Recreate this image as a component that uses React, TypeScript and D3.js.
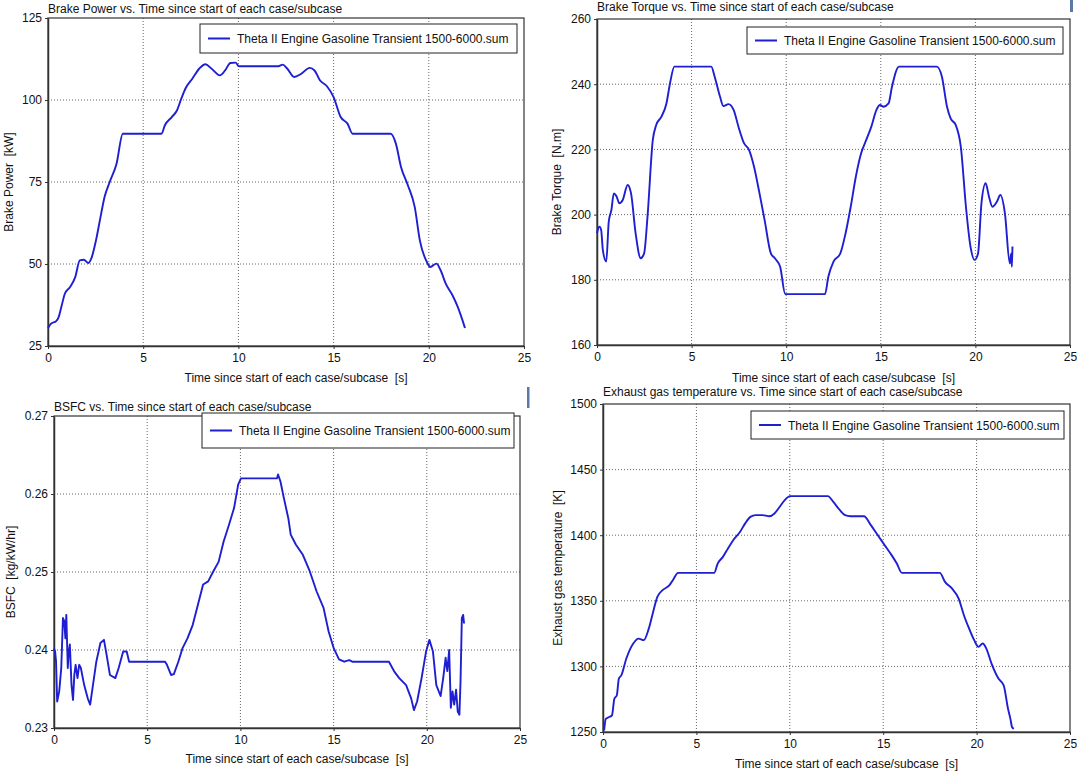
import React, { useEffect, useRef } from "react";
import { select, scaleLinear, line, axisLeft, axisBottom, curveMonotoneX, curveLinear } from "d3";

// time [s] vs value
const brakePower: [number, number][] = [
  [0, 30.5], [0.16, 31.8], [0.43, 32.6], [0.56, 33.8], [0.7, 36.9], [0.89, 41], [1.16, 43],
  [1.43, 46], [1.67, 51.1], [1.88, 51.3], [2.12, 50.3], [2.3, 52.1], [2.52, 57.2], [2.79, 65.3],
  [2.97, 70.4], [3.24, 75], [3.6, 80.6], [3.93, 89.7], [5.96, 89.7], [6.14, 92.3], [6.5, 94.8],
  [6.77, 96.8], [7.0, 100.4], [7.22, 103.5], [7.58, 106.5], [7.95, 109.6], [8.27, 110.9],
  [8.58, 109.6], [9.03, 107.5], [9.3, 109], [9.58, 111.3], [9.85, 111.4], [10.03, 110.3],
  [12.1, 110.3], [12.33, 110.8], [12.56, 109.6], [12.93, 107], [13.3, 108], [13.74, 109.8],
  [14.0, 109], [14.28, 106], [14.65, 104.2], [15.0, 100.9], [15.37, 94.8], [15.73, 92.8],
  [16.0, 89.7], [18.0, 89.7], [18.27, 86.7], [18.54, 79.6], [18.9, 74], [19.26, 67.4],
  [19.53, 57.2], [19.9, 50.6], [20.08, 49.1], [20.4, 50.1], [20.62, 48.1], [20.89, 44],
  [21.25, 40.4], [21.52, 36.9], [21.9, 30.5],
];

const brakeTorque: [number, number][] = [
  [0, 194.3], [0.04, 195.3], [0.13, 196.3], [0.22, 195.3], [0.31, 189.1], [0.49, 185.6],
  [0.62, 197.8], [0.76, 201.4], [0.89, 206.5], [1.04, 205.5], [1.18, 203.5], [1.36, 204.5],
  [1.62, 209.1], [1.8, 206.5], [2.04, 194.3], [2.31, 186.6], [2.49, 188.1], [2.67, 199.4],
  [2.95, 222.9], [3.13, 227.5], [3.4, 230], [3.67, 234.1], [3.86, 240.3], [4.09, 245.4],
  [6.04, 245.4], [6.22, 242.3], [6.5, 236.2], [6.68, 233.3], [6.95, 233.9], [7.22, 232.1],
  [7.5, 226.5], [7.77, 221.9], [8.04, 219.8], [8.3, 214.7], [8.59, 206.5], [8.86, 198.3],
  [9.19, 188.1], [9.4, 186.6], [9.68, 184], [9.95, 175.6], [12.05, 175.6], [12.23, 181],
  [12.5, 185.6], [12.86, 188.1], [13.14, 194.3], [13.41, 202.4], [13.68, 211.6], [13.96, 218.8],
  [14.23, 222.9], [14.5, 227], [14.77, 232.1], [14.96, 233.6], [15.14, 233.1], [15.41, 234.1],
  [15.59, 239.2], [15.96, 245.4], [17.96, 245.4], [18.23, 242.3], [18.5, 233.1], [18.69, 229.5],
  [18.96, 227.5], [19.23, 220.8], [19.5, 202.4], [19.74, 190.2], [19.96, 186.1], [20.14, 188.1],
  [20.32, 203.5], [20.54, 209.6], [20.72, 205.5], [20.9, 202.4], [21.14, 204], [21.32, 206],
  [21.56, 200.4], [21.82, 185], [21.89, 188.1], [21.93, 184], [21.96, 190.2],
];

const bsfc: [number, number][] = [
  [0, 0.2402], [0.06, 0.2398], [0.11, 0.2385], [0.17, 0.2334], [0.28, 0.2347], [0.39, 0.2377],
  [0.48, 0.2441], [0.55, 0.2437], [0.61, 0.2415], [0.66, 0.2445], [0.74, 0.2377], [0.79, 0.2398],
  [0.85, 0.2407], [0.94, 0.2355], [1.02, 0.2336], [1.09, 0.2368], [1.16, 0.2381], [1.26, 0.2364],
  [1.35, 0.2381], [1.44, 0.2377], [1.62, 0.2355], [1.81, 0.2338], [1.94, 0.233], [2.09, 0.2355],
  [2.27, 0.2385], [2.49, 0.2409], [2.68, 0.2413], [2.82, 0.2394], [3.0, 0.2368], [3.29, 0.2364],
  [3.47, 0.2377], [3.71, 0.2398], [3.9, 0.2398], [4.03, 0.2385], [5.96, 0.2385], [6.06, 0.2381],
  [6.28, 0.2368], [6.43, 0.2369], [6.67, 0.2385], [6.89, 0.2402], [7.16, 0.2415], [7.44, 0.2432],
  [7.72, 0.2458], [8.0, 0.2484], [8.27, 0.2488], [8.55, 0.2501], [8.83, 0.2513], [9.1, 0.2539],
  [9.38, 0.256], [9.66, 0.2582], [9.88, 0.2612], [10.03, 0.262], [11.96, 0.262], [12.02, 0.2625],
  [12.15, 0.2616], [12.33, 0.2595], [12.57, 0.2569], [12.7, 0.2548], [12.98, 0.2535],
  [13.35, 0.2522], [13.72, 0.2501], [14.09, 0.2475], [14.46, 0.2454], [14.73, 0.2424],
  [15.01, 0.2402], [15.29, 0.2388], [15.57, 0.2385], [15.84, 0.2387], [16.0, 0.2385],
  [17.97, 0.2385], [18.24, 0.2373], [18.52, 0.2364], [18.89, 0.2355], [19.16, 0.2338],
  [19.31, 0.2323], [19.48, 0.2334], [19.72, 0.2364], [19.96, 0.2398], [20.14, 0.2413],
  [20.33, 0.2398], [20.51, 0.2355], [20.74, 0.2341], [20.88, 0.2364], [21.01, 0.239],
  [21.1, 0.2373], [21.2, 0.24], [21.29, 0.2326], [21.38, 0.2347], [21.47, 0.233], [21.57, 0.2349],
  [21.66, 0.2321], [21.75, 0.2317], [21.81, 0.236], [21.88, 0.2441], [21.95, 0.2445], [22.0, 0.2434],
];

const exhaustTemp: [number, number][] = [
  [0.06, 1251.3], [0.15, 1260], [0.33, 1261.4], [0.48, 1262.7], [0.61, 1275.4], [0.74, 1278],
  [0.85, 1290.7], [0.98, 1293.2], [1.25, 1306], [1.62, 1317.4], [1.9, 1321.2], [2.18, 1320],
  [2.45, 1328.8], [2.64, 1339], [2.91, 1353], [3.19, 1358.1], [3.56, 1361.9], [3.74, 1365.7],
  [4.02, 1371.3], [5.95, 1371.3], [6.14, 1378.4], [6.42, 1383.5], [6.69, 1389.9], [6.97, 1396.2],
  [7.34, 1402.6], [7.61, 1409], [7.89, 1414], [8.17, 1415.3], [8.54, 1415.3], [8.9, 1414.5],
  [9.18, 1416.6], [9.46, 1421.7], [9.73, 1426.8], [10.01, 1429.8], [12.04, 1429.8],
  [12.32, 1425.5], [12.68, 1419.1], [12.96, 1415.3], [13.24, 1414.5], [13.97, 1414.5],
  [14.34, 1407.7], [14.71, 1400], [15.08, 1392.4], [15.45, 1384.8], [15.73, 1378.4],
  [16.0, 1371.3], [18.03, 1371.3], [18.31, 1364.4], [18.68, 1359.4], [19.04, 1351.7],
  [19.32, 1339], [19.6, 1328.8], [19.87, 1320], [20.1, 1314.9], [20.33, 1317.4], [20.52, 1313.6],
  [20.8, 1302.1], [21.17, 1290.7], [21.45, 1285.6], [21.68, 1267.8], [21.81, 1260],
  [21.9, 1253.7], [22.0, 1252.5],
];

const timeTicks = [0, 5, 10, 15, 20, 25];
const powerTicks = [25, 50, 75, 100, 125];
const torqueTicks = [160, 180, 200, 220, 240, 260];
const bsfcTicks = [0.23, 0.24, 0.25, 0.26, 0.27];
const tempTicks = [1250, 1300, 1350, 1400, 1450, 1500];

const legendText = "Theta II Engine Gasoline Transient 1500-6000.sum";
const xTitle = "Time since start of each case/subcase \u00a0[s]";

const panels = [
  {
    data: brakePower, yTicks: powerTicks, fmt: (d: number) => String(d), smooth: true,
    title: "Brake Power vs. Time since start of each case/subcase",
    yTitle: "Brake Power \u00a0[kW]",
    box: { l: 48, r: 524, t: 18, b: 346 }, legend: { x0: 200, y0: 24, x1: 517, y1: 53 },
    titleY: 13, yTitleX: 13, xTitleY: 382,
  },
  {
    data: brakeTorque, yTicks: torqueTicks, fmt: (d: number) => String(d), smooth: true,
    title: "Brake Torque vs. Time since start of each case/subcase",
    yTitle: "Brake Torque \u00a0[N.m]",
    box: { l: 597, r: 1070, t: 19, b: 345 }, legend: { x0: 747, y0: 27, x1: 1063, y1: 54 },
    titleY: 11, yTitleX: 561, xTitleY: 382,
  },
  {
    data: bsfc, yTicks: bsfcTicks, fmt: (d: number) => d.toFixed(2), smooth: false,
    title: "BSFC vs. Time since start of each case/subcase",
    yTitle: "BSFC \u00a0[kg/kW/hr]",
    box: { l: 54, r: 520, t: 416, b: 728 }, legend: { x0: 202, y0: 413, x1: 514, y1: 448 },
    titleY: 411, yTitleX: 15, xTitleY: 763,
  },
  {
    data: exhaustTemp, yTicks: tempTicks, fmt: (d: number) => String(d), smooth: true,
    title: "Exhaust gas temperature vs. Time since start of each case/subcase",
    yTitle: "Exhaust gas temperature \u00a0[K]",
    box: { l: 603, r: 1070, t: 404, b: 732 }, legend: { x0: 751, y0: 411, x1: 1064, y1: 439 },
    titleY: 396, yTitleX: 562, xTitleY: 768,
  },
];

const BLUE = "#1f1fd2";
const FONT = "'Liberation Sans', Arial, sans-serif";

export default function App() {
  const svgRef = useRef<SVGSVGElement>(null);

  useEffect(() => {
    const svg = select(svgRef.current);
    svg.selectAll("*").remove();
    svg.append("rect").attr("width", 1077).attr("height", 772).attr("fill", "#fff");

    panels.forEach(p => {
      const { l, r, t, b } = p.box;
      const x = scaleLinear().domain([0, 25]).range([l, r]);
      const yDom = [p.yTicks[0], p.yTicks[p.yTicks.length - 1]];
      const y = scaleLinear().domain(yDom).range([b, t]);
      const g = svg.append("g").attr("font-family", FONT);

      // dotted grid
      g.selectAll(".gx").data(timeTicks.slice(1, -1)).join("line")
        .attr("x1", d => x(d)).attr("x2", d => x(d)).attr("y1", t).attr("y2", b)
        .attr("stroke", "#666").attr("stroke-dasharray", "1,2");
      g.selectAll(".gy").data(p.yTicks.slice(1, -1)).join("line")
        .attr("y1", d => y(d)).attr("y2", d => y(d)).attr("x1", l).attr("x2", r)
        .attr("stroke", "#666").attr("stroke-dasharray", "1,2");

      // axes
      const xa = g.append("g").attr("transform", `translate(0,${b})`)
        .call(axisBottom(x).tickValues(timeTicks).tickSize(3).tickPadding(4).tickSizeOuter(0));
      const ya = g.append("g").attr("transform", `translate(${l},0)`)
        .call(axisLeft(y).tickValues(p.yTicks).tickFormat(p.fmt as any).tickSize(3).tickPadding(3).tickSizeOuter(0));
      [xa, ya].forEach(a => {
        a.selectAll("text").attr("font-size", 12).attr("font-family", FONT).attr("fill", "#111");
        a.selectAll("line").attr("stroke", "#333");
        a.select(".domain").attr("stroke", "#333").attr("stroke-width", 1.5);
      });

      // frame
      g.append("rect").attr("x", l).attr("y", t).attr("width", r - l).attr("height", b - t)
        .attr("fill", "none").attr("stroke", "#333").attr("stroke-width", 1.2);

      // series
      g.append("path").datum(p.data)
        .attr("d", line<[number, number]>().curve(p.smooth ? curveMonotoneX : curveLinear)
          .x(d => x(d[0])).y(d => y(d[1])))
        .attr("fill", "none").attr("stroke", BLUE).attr("stroke-width", 1.9)
        .attr("stroke-linejoin", "round");

      // legend
      const lg = p.legend;
      const cy = (lg.y0 + lg.y1) / 2;
      g.append("rect").attr("x", lg.x0).attr("y", lg.y0)
        .attr("width", lg.x1 - lg.x0).attr("height", lg.y1 - lg.y0)
        .attr("fill", "#fff").attr("stroke", "#222").attr("stroke-width", 1);
      g.append("line").attr("x1", lg.x0 + 8).attr("x2", lg.x0 + 30).attr("y1", cy).attr("y2", cy)
        .attr("stroke", BLUE).attr("stroke-width", 2);
      g.append("text").attr("x", lg.x0 + 37).attr("y", cy + 4.5).attr("font-size", 12)
        .attr("fill", "#111").text(legendText);

      // titles
      g.append("text").attr("x", l).attr("y", p.titleY).attr("font-size", 12)
        .attr("fill", "#111").text(p.title);
      g.append("text").attr("x", (l + r) / 2 + 10).attr("y", p.xTitleY).attr("font-size", 12)
        .attr("text-anchor", "middle").attr("fill", "#111").text(xTitle);
      g.append("text")
        .attr("transform", `translate(${p.yTitleX},${(t + b) / 2}) rotate(-90)`)
        .attr("font-size", 12).attr("text-anchor", "middle").attr("fill", "#111").text(p.yTitle);
    });

    // small cropping artifacts of the original image
    svg.append("rect").attr("x", 1070).attr("y", 0).attr("width", 3).attr("height", 12).attr("fill", "#5a78a8");
    svg.append("rect").attr("x", 527).attr("y", 387).attr("width", 2.5).attr("height", 21).attr("fill", "#5a78a8");
  }, []);

  return (
    <svg ref={svgRef} width={1077} height={772}
      style={{ position: "absolute", left: 0, top: 0, display: "block" }} />
  );
}
